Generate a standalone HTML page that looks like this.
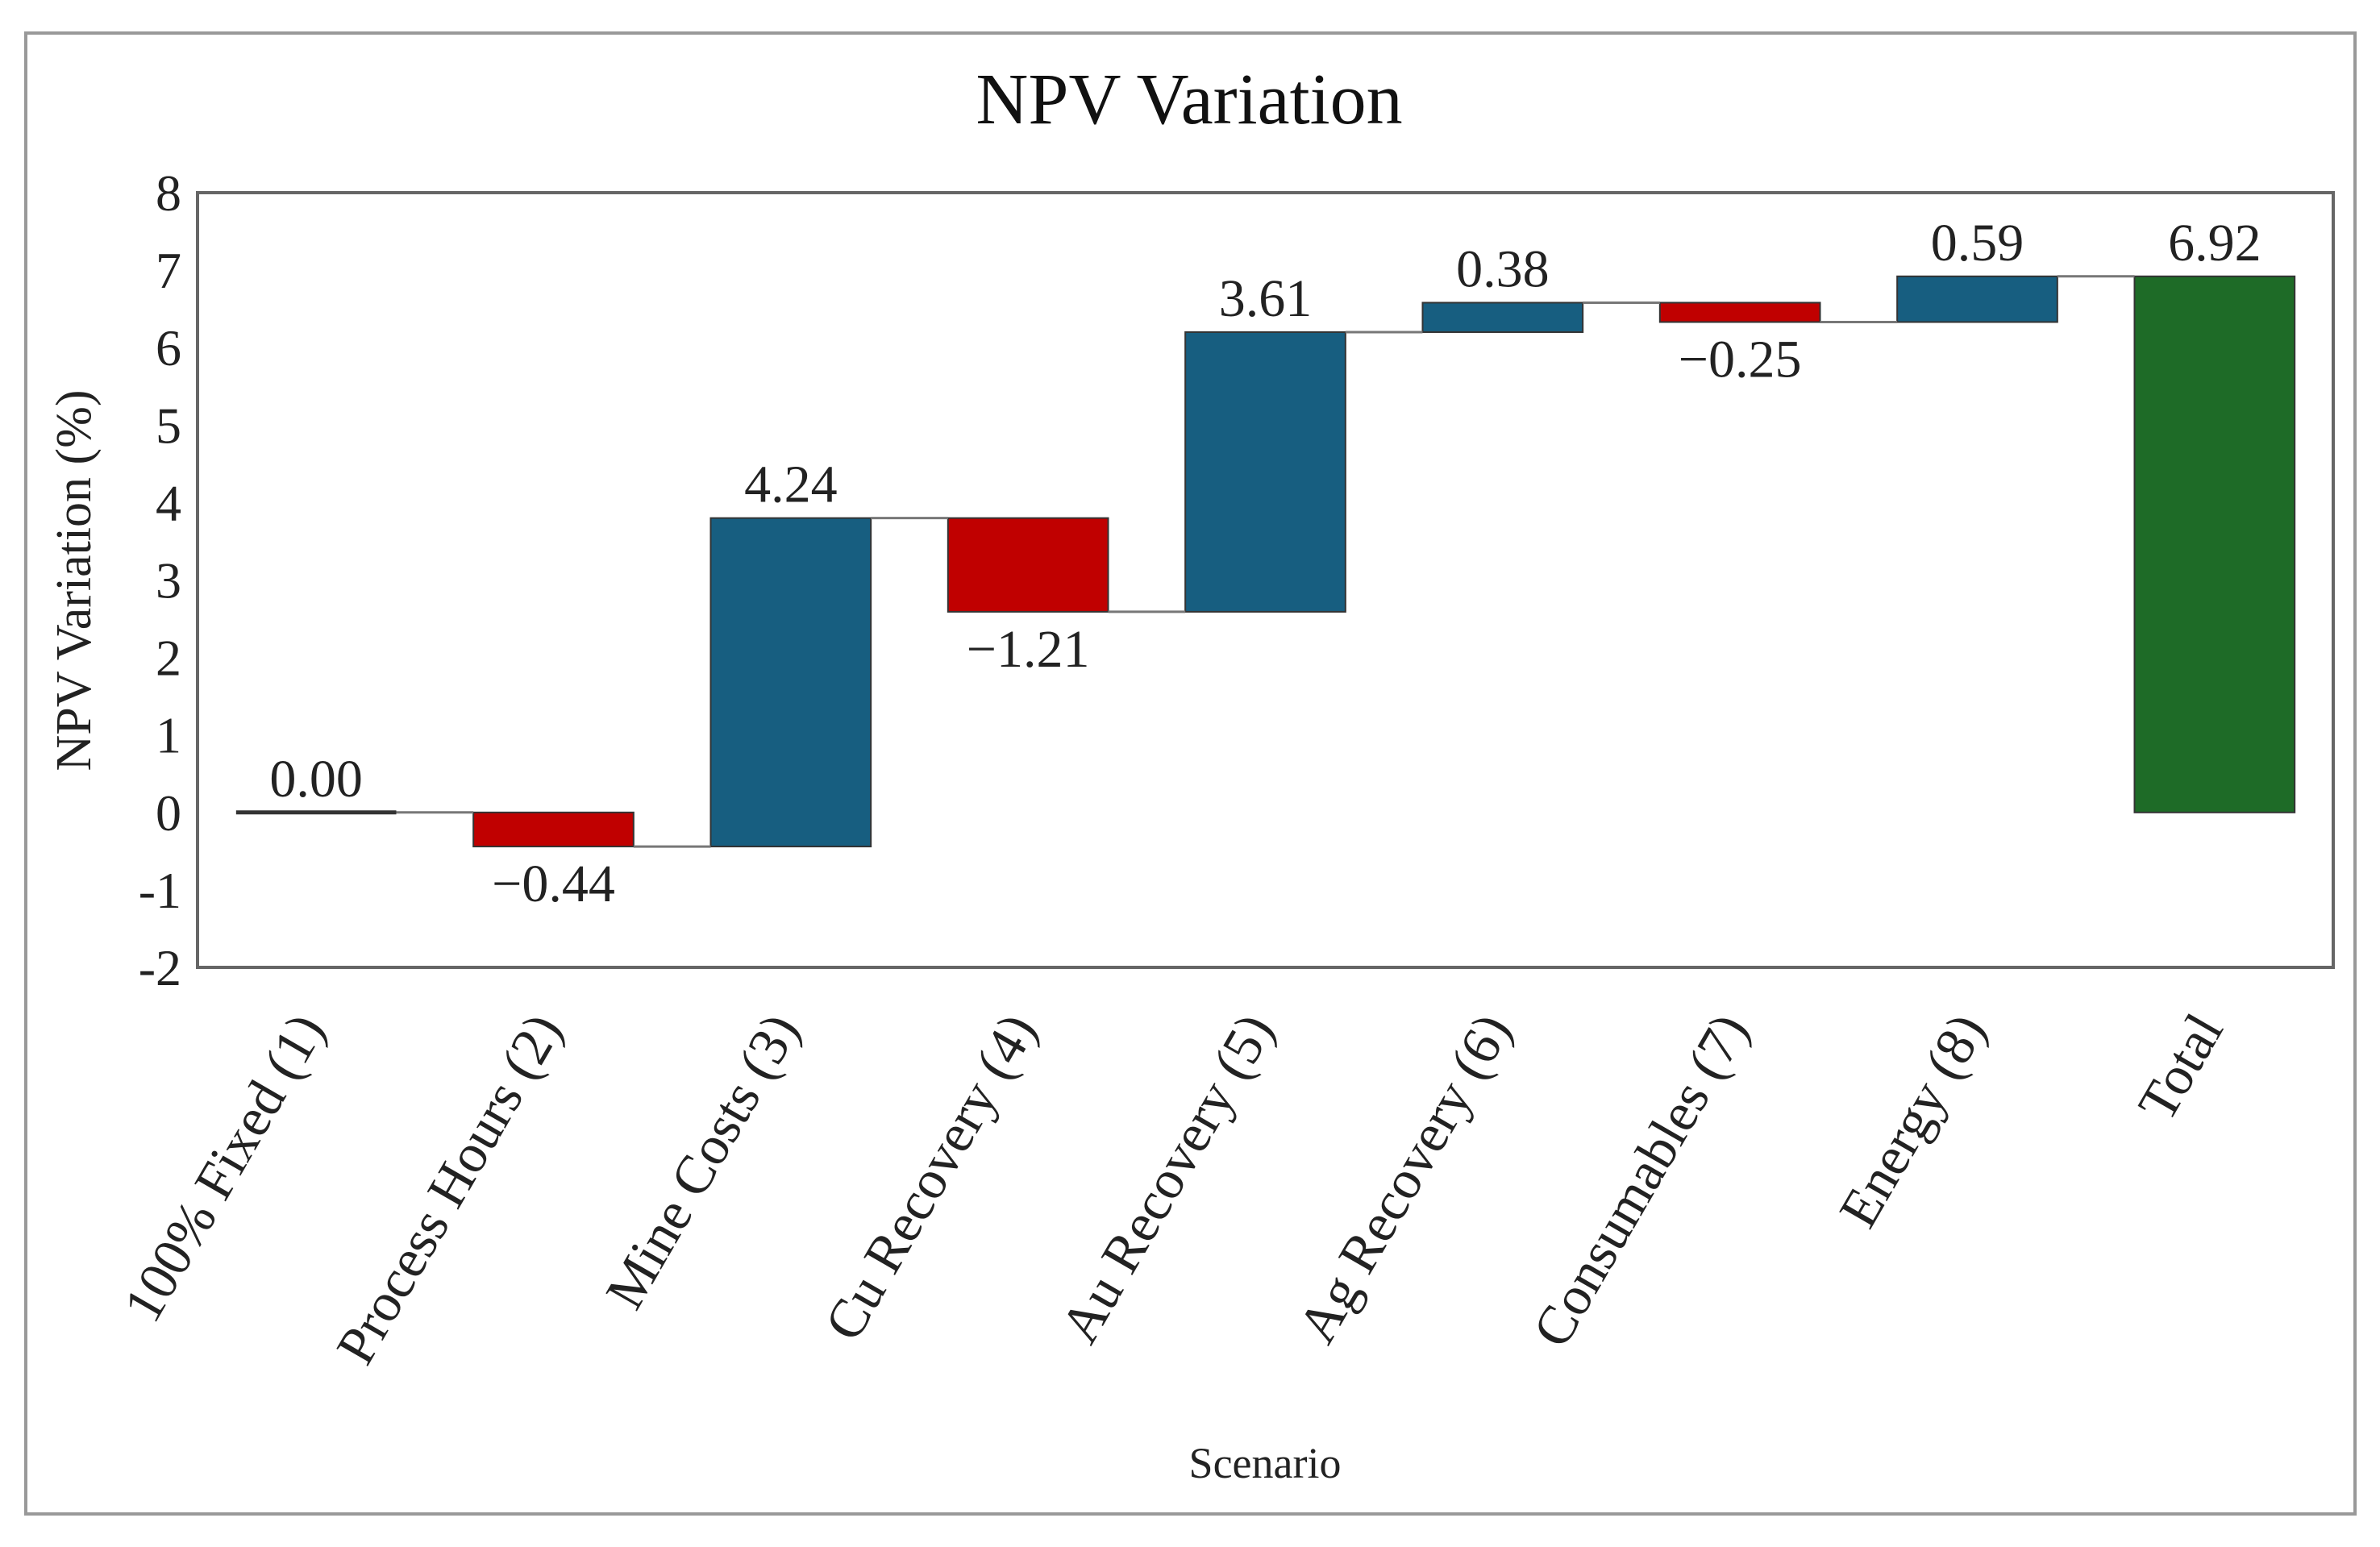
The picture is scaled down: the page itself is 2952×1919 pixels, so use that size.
<!DOCTYPE html>
<html><head><meta charset="utf-8"><style>
html,body{margin:0;padding:0;background:#fff;}
svg{display:block;font-family:"Liberation Serif",serif;}
</style></head><body>
<svg id="chart" width="2952" height="1919" viewBox="0 0 2952 1919">
<rect x="32" y="41" width="2889" height="1837" fill="#fff" stroke="#999" stroke-width="4"/>
<text x="1475" y="153" font-size="90" text-anchor="middle" fill="#111">NPV Variation</text>
<rect x="245" y="239" width="2649" height="961" fill="#fff" stroke="#666" stroke-width="4"/>
<text transform="translate(112,720) rotate(-90)" font-size="62" text-anchor="middle" fill="#222">NPV Variation (%)</text>
<text x="1569" y="1833" font-size="54" text-anchor="middle" fill="#222">Scenario</text>
<g id="marks"></g>
</svg>
<script>
const categories = ["100% Fixed (1)","Process Hours (2)","Mine Costs (3)","Cu Recovery (4)","Au Recovery (5)","Ag Recovery (6)","Consumables (7)","Energy (8)","Total"];
const deltas = [0.00,-0.44,4.24,-1.21,3.61,0.38,-0.25,0.59];
const totalValue = 6.92;
const labels = ["0.00","\u22120.44","4.24","\u22121.21","3.61","0.38","\u22120.25","0.59","6.92"];
const yTicks = [8,7,6,5,4,3,2,1,0,-1,-2];

const NS="http://www.w3.org/2000/svg";
const g=document.getElementById('marks');
const plotL=245,plotR=2894,plotT=239,plotB=1200,yMin=-2,yMax=8;
const y=v=>plotB-(v-yMin)/(yMax-yMin)*(plotB-plotT);
const band=(plotR-plotL)/categories.length;
const xc=i=>plotL+band*(i+0.5);
const bw=band*0.675;
function mk(tag,attrs){const e=document.createElementNS(NS,tag);for(const k in attrs)e.setAttribute(k,attrs[k]);g.appendChild(e);return e;}

yTicks.forEach(t=>{
  const e=mk('text',{x:plotL-20,y:y(t)+22,'font-size':64,'text-anchor':'end',fill:'#222'});
  e.textContent=t;
  
  
});

let cum=0;
const ends=[];
categories.forEach((c,i)=>{
  let start,end,color;
  if(i<deltas.length){start=cum;end=cum+deltas[i];cum=end;color=deltas[i]>=0?'#175e80':'#c00000';}
  else{start=0;end=totalValue;color='#1e6b27';}
  ends.push(end);
  const top=Math.max(start,end),bot=Math.min(start,end);
  const x0=xc(i)-bw/2;
  if(top-bot<0.001){
    const ln=mk('line',{x1:x0,x2:x0+bw,y1:y(top),y2:y(top),stroke:'#333','stroke-width':5});
    
    
  } else {
    const r=mk('rect',{x:x0,y:y(top),width:bw,height:y(bot)-y(top),fill:color,stroke:'#333','stroke-width':2});
    
    
  }
  const neg=(i<deltas.length&&deltas[i]<0);
  const ly=neg?y(bot)+68:y(top)-20;
  const t=mk('text',{x:xc(i),y:ly,'font-size':66,'text-anchor':'middle',fill:'#222'});
  t.textContent=labels[i];
  
  
  const ax=xc(i)+12,ay=1275;
  const xl=mk('text',{x:ax,y:ay,'font-size':68,'text-anchor':'end',fill:'#222',transform:'rotate(-60 '+ax+' '+ay+')'});
  xl.textContent=c;
  
  
});
for(let i=0;i<categories.length-1;i++){
  const ln=mk('line',{x1:xc(i)+bw/2,x2:xc(i+1)-bw/2,y1:y(ends[i]),y2:y(ends[i]),stroke:'#777','stroke-width':3});
  
  
}
</script>
</body></html>
